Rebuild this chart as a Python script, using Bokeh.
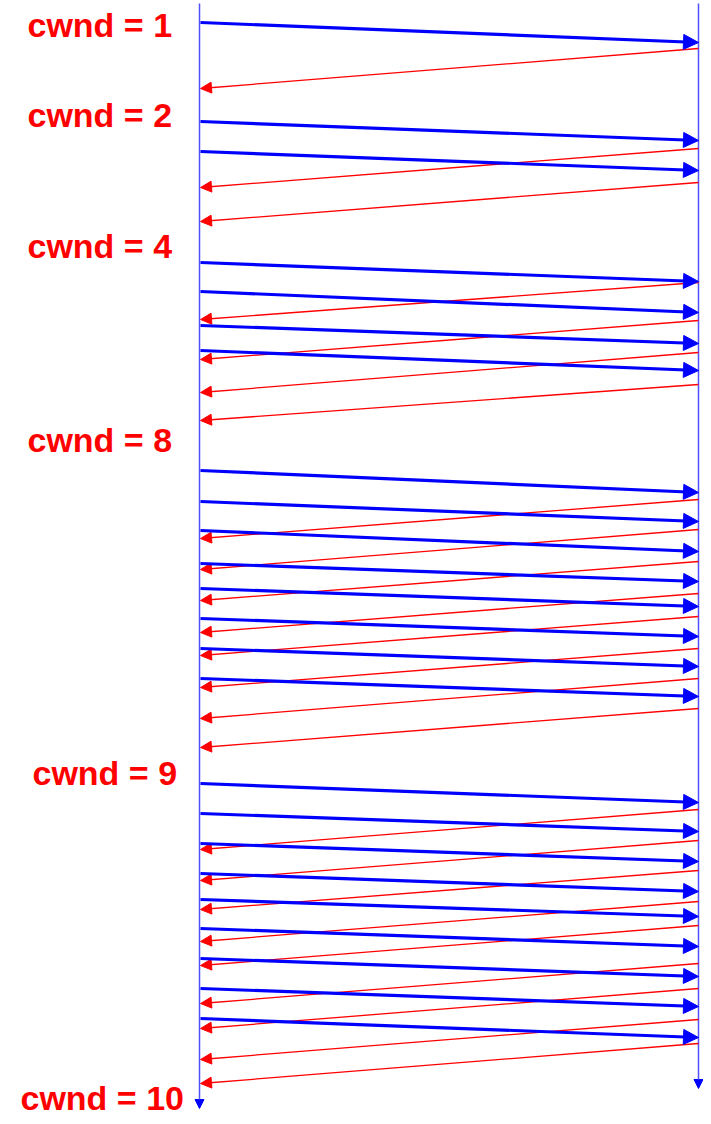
from bokeh.plotting import figure
from bokeh.models import ColumnDataSource, Range1d, Arrow, NormalHead
from bokeh.core.properties import value
from bokeh.embed import file_html
from bokeh.resources import INLINE

# ---- data (time axis runs downward, in picture units) ----
cwnd_labels = ["cwnd = 1", "cwnd = 2", "cwnd = 4", "cwnd = 8", "cwnd = 9", "cwnd = 10"]
label_time = [24, 114, 245, 439, 772, 1097]
label_left = [27, 27, 27, 27, 32, 20]

# data segments: time sent at sender, time received at receiver
seg_sent = [22,
            121, 151,
            262, 291, 325, 350,
            470, 501, 530, 563, 588, 618, 648, 678,
            783, 813, 843, 873, 899, 928, 958, 988, 1018]
seg_recv = [42,
            140, 170,
            281, 312, 343, 370,
            492, 521, 551, 581, 606, 636, 666, 696,
            802, 831, 861, 891, 916, 946, 976, 1006, 1037]

# acknowledgements: time sent at receiver, time received at sender
ack_sent = [48,
            148, 182,
            282, 320, 352, 384,
            499, 529, 561, 593, 616, 648, 678, 708,
            809, 840, 870, 901, 925, 963, 988, 1019, 1043]
ack_recv = [88,
            187, 221,
            319, 359, 392, 420,
            538, 569, 600, 632, 655, 687, 718, 747,
            849, 880, 909, 941, 965, 1003, 1028, 1059, 1083]

sender_x = 199
receiver_x = 698
timeline_start = 3
sender_timeline_end = 1108
receiver_timeline_end = 1088

# ---- figure ----
p = figure(width=703, height=1116, output_backend="svg", toolbar_location=None,
           x_range=Range1d(0, 703), y_range=Range1d(1116, 0),
           x_axis_location=None, y_axis_location=None, min_border=0)
p.grid.visible = False
p.outline_line_color = None
p.background_fill_color = "white"
p.border_fill_color = "white"

# timelines
tl_src = ColumnDataSource(dict(
    x0=[sender_x, receiver_x], y0=[timeline_start, timeline_start],
    x1=[sender_x, receiver_x], y1=[sender_timeline_end, receiver_timeline_end]))
p.add_layout(Arrow(source=tl_src, x_start="x0", y_start="y0", x_end="x1", y_end="y1",
                   line_color="#5050ff", line_width=1.5,
                   end=NormalHead(size=9, fill_color="#0000ff", line_color="#0000ff", line_width=1)))

# acks (red)
ack_src = ColumnDataSource(dict(
    x0=[receiver_x] * len(ack_sent), y0=ack_sent,
    x1=[sender_x + 1] * len(ack_recv), y1=ack_recv))
p.add_layout(Arrow(source=ack_src, x_start="x0", y_start="y0", x_end="x1", y_end="y1",
                   line_color="#ff0000", line_width=1.3,
                   end=NormalHead(size=11, fill_color="#ff0000", line_color="#ff0000", line_width=1)))

# data segments (blue)
seg_src = ColumnDataSource(dict(
    x0=[sender_x + 1] * len(seg_sent), y0=seg_sent,
    x1=[receiver_x] * len(seg_recv), y1=seg_recv))
p.add_layout(Arrow(source=seg_src, x_start="x0", y_start="y0", x_end="x1", y_end="y1",
                   line_color="#0000ff", line_width=3.2,
                   end=NormalHead(size=15, fill_color="#0000ff", line_color="#0000ff", line_width=1)))

# labels
lab_src = ColumnDataSource(dict(x=label_left, y=label_time, t=cwnd_labels))
p.text(x="x", y="y", text="t", source=lab_src,
       text_font=value("Liberation Sans"), text_font_style="bold",
       text_font_size="34px", text_color="#ff0000",
       text_align="left", text_baseline="alphabetic")

open("out.html", "w").write(file_html(p, INLINE))
